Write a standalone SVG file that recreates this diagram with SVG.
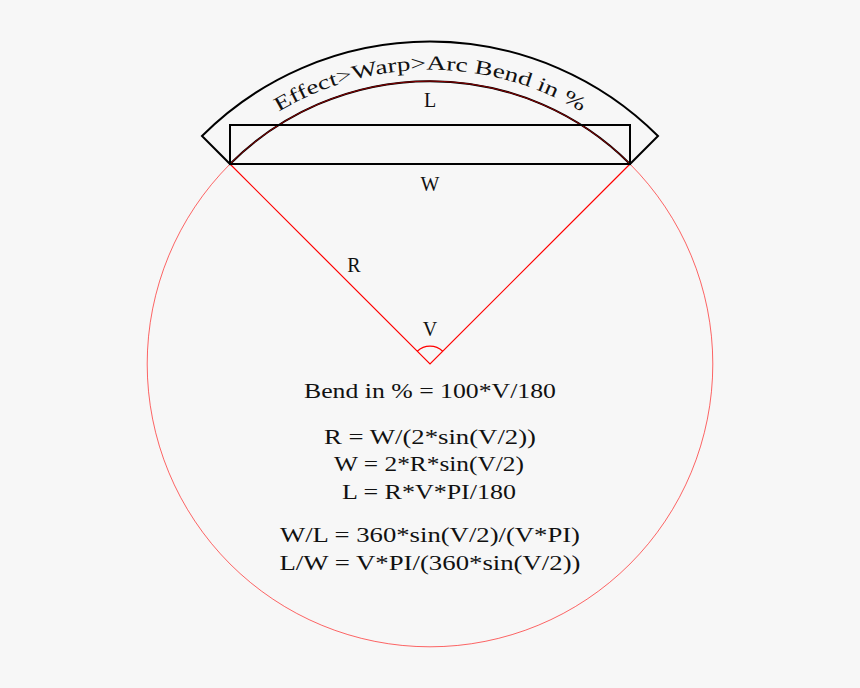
<svg xmlns="http://www.w3.org/2000/svg" width="860" height="688" viewBox="0 0 860 688">
<style>
text{font-family:"Liberation Serif","DejaVu Serif",serif;font-size:20px;fill:#111;text-anchor:middle}
.blk{fill:none;stroke:#000;stroke-width:2}
.red{fill:none;stroke:#f00;stroke-width:1.2}
</style>
<defs><path id="tp" d="M222,156 A294,294 0 0 1 638,156"/></defs>
<rect width="860" height="688" fill="#f7f7f7"/>
<g id="circle"><circle cx="430" cy="364" r="282.8" fill="none" stroke="#f00" stroke-width="0.6"/></g>
<g id="connectors">
<path class="red" d="M230,164 L430,364 L630,164"/>
<path class="red" d="M417.3,351.3 A18,18 0 0 1 442.7,351.3"/>
</g>
<g id="band">
<path class="blk" d="M202,136 A322.4,322.4 0 0 1 658,136 L630,164 A282.8,282.8 0 0 0 230,164 Z"/>
<path d="M630,164 A282.8,282.8 0 0 0 230,164" fill="none" stroke="#8b0000" stroke-width="1"/>
<text><textPath href="#tp" startOffset="50%" textLength="318" lengthAdjust="spacingAndGlyphs">Effect&gt;Warp&gt;Arc Bend in %</textPath></text>
</g>
<g id="rect"><rect class="blk" x="230" y="125" width="400" height="39"/></g>
<text x="430" y="107">L</text>
<text x="430" y="191">W</text>
<text x="354" y="272">R</text>
<text x="430" y="336">V</text>
<g id="formulas">
<text x="430" y="398" textLength="252" lengthAdjust="spacingAndGlyphs">Bend in % = 100*V/180</text>
<text x="430" y="444" textLength="212" lengthAdjust="spacingAndGlyphs">R = W/(2*sin(V/2))</text>
<text x="429" y="471" textLength="190" lengthAdjust="spacingAndGlyphs">W = 2*R*sin(V/2)</text>
<text x="429" y="499" textLength="174" lengthAdjust="spacingAndGlyphs">L = R*V*PI/180</text>
<text x="430" y="542" textLength="300" lengthAdjust="spacingAndGlyphs">W/L = 360*sin(V/2)/(V*PI)</text>
<text x="430" y="570" textLength="301" lengthAdjust="spacingAndGlyphs">L/W = V*PI/(360*sin(V/2))</text>
</g>
</svg>
